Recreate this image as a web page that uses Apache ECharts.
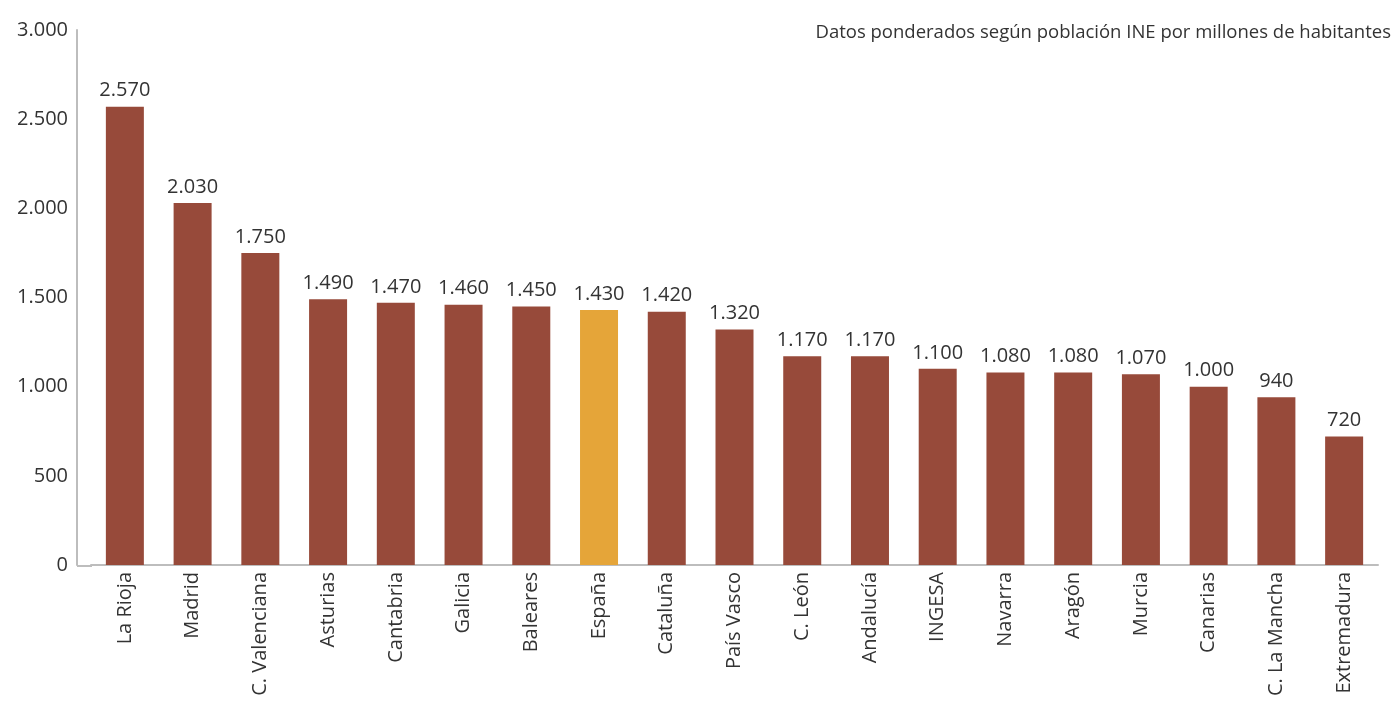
<!DOCTYPE html>
<html>
<head>
<meta charset="utf-8">
<script src="https://cdn.jsdelivr.net/npm/echarts@6/dist/echarts.min.js"></script>
<style>html,body{margin:0;padding:0;background:#fff}#c{width:1400px;height:703px}</style>
</head>
<body>
<div id="c"></div>
<script>
const categories = ["La Rioja","Madrid","C. Valenciana","Asturias","Cantabria","Galicia","Baleares","España","Cataluña","País Vasco","C. León","Andalucía","INGESA","Navarra","Aragón","Murcia","Canarias","C. La Mancha","Extremadura"];
const values = [2570,2030,1750,1490,1470,1460,1450,1430,1420,1320,1170,1170,1100,1080,1080,1070,1000,940,720];
const highlight = "España";
const subtitle = "Datos ponderados según población INE por millones de habitantes";

const fmt = v => String(v).replace(/\B(?=(\d{3})+(?!\d))/g, ".");
const FONT = "Open Sans";
const chart = echarts.init(document.getElementById('c'), null, {renderer:'canvas'});
chart.setOption({
  animation:false,
  textStyle:{fontFamily:FONT},
  title:{text:subtitle, right:4, top:18, textStyle:{fontFamily:FONT,fontSize:18.5,fontWeight:'normal',color:'#333'}},
  grid:{left:91, right:22, top:30, bottom:138, containLabel:false},
  xAxis:{type:'category', data:categories,
    axisLine:{lineStyle:{color:'#bdbdbd', width:2}},
    axisTick:{show:false},
    axisLabel:{rotate:90, interval:0, fontSize:20, color:'#333', fontFamily:FONT, margin:7}},
  yAxis:{type:'value', min:0, max:3000, interval:500, offset:14,
    axisLine:{show:true, lineStyle:{color:'#bdbdbd', width:2}},
    axisTick:{show:false}, splitLine:{show:false},
    axisLabel:{fontSize:20, color:'#333', fontFamily:FONT, margin:9, formatter:v=>fmt(v)}},
  graphic:[{type:'line', shape:{x1:77,y1:566,x2:92,y2:566}, style:{stroke:'#bdbdbd', lineWidth:2}}],
  series:[{type:'bar', barWidth:38,
    data: values.map((v,i)=>({value:v, itemStyle:{color: categories[i]===highlight ? '#e5a539' : '#974a3a'}})),
    label:{show:true, position:'top', distance:6, fontSize:20, color:'#333', fontFamily:FONT, formatter:p=>fmt(p.value)}}]
});
</script>
</body>
</html>
